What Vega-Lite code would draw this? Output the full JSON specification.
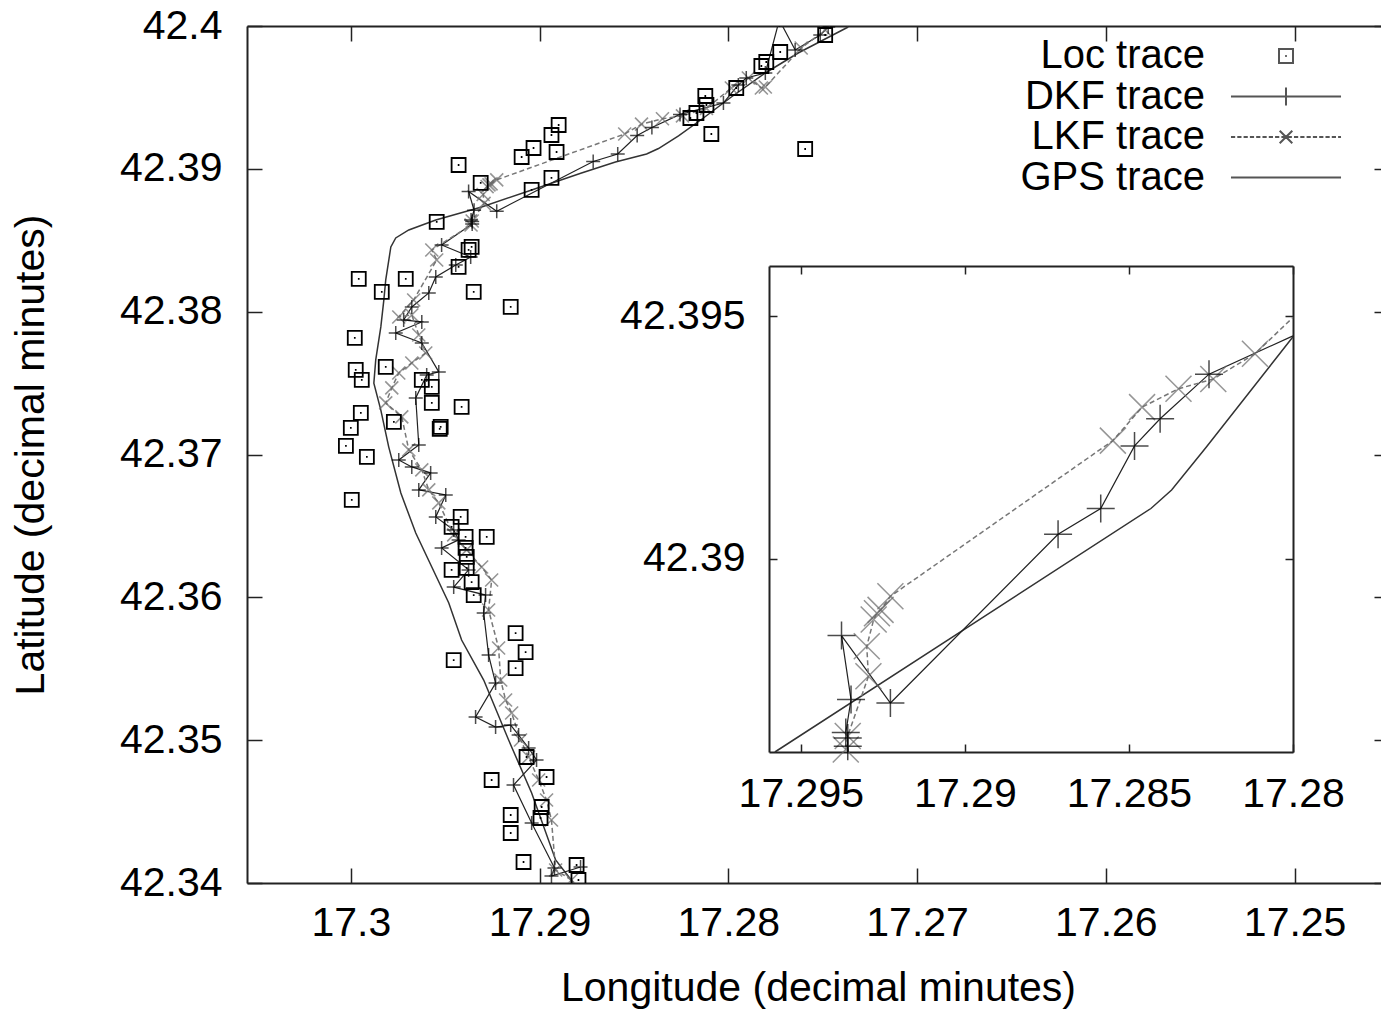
{
  "$schema": "https://vega.github.io/schema/vega-lite/v6.json",
  "width": 1142,
  "height": 857,
  "autosize": "none",
  "padding": {"left": 247, "top": 26, "right": 0, "bottom": 126},
  "background": "white",
  "config": {
    "font": "Liberation Sans",
    "view": {"stroke": null},
    "axis": {
      "domainColor": "#222", "domainWidth": 2, "tickColor": "#222", "tickWidth": 1.5,
      "grid": false, "labelFont": "Liberation Sans", "labelFontSize": 41, "labelColor": "#000",
      "titleFont": "Liberation Sans", "titleFontSize": 41, "titleFontWeight": "normal", "titleColor": "#000",
      "labelFlush": false, "labelOverlap": false, "labelBound": false
    }
  },
  "datasets": {
    "gps": [
      {"lon":17.28820,"lat":42.34000},{"lon":17.28915,"lat":42.34161},{"lon":17.29042,"lat":42.34630},{"lon":17.29164,"lat":42.35001},
      {"lon":17.29296,"lat":42.35421},{"lon":17.29413,"lat":42.35701},{"lon":17.29481,"lat":42.35960},{"lon":17.29571,"lat":42.36212},
      {"lon":17.29656,"lat":42.36450},{"lon":17.29735,"lat":42.36730},{"lon":17.29799,"lat":42.37052},{"lon":17.29841,"lat":42.37311},
      {"lon":17.29878,"lat":42.37500},{"lon":17.29868,"lat":42.37662},{"lon":17.29841,"lat":42.37893},{"lon":17.29825,"lat":42.38082},
      {"lon":17.29815,"lat":42.38222},{"lon":17.29788,"lat":42.38453},{"lon":17.29762,"lat":42.38516},{"lon":17.29693,"lat":42.38572},
      {"lon":17.29550,"lat":42.38642},{"lon":17.29307,"lat":42.38733},{"lon":17.29042,"lat":42.38852},{"lon":17.28778,"lat":42.38971},
      {"lon":17.28598,"lat":42.39048},{"lon":17.28433,"lat":42.39104},{"lon":17.28370,"lat":42.39142},{"lon":17.28264,"lat":42.39231},
      {"lon":17.28132,"lat":42.39356},{"lon":17.27984,"lat":42.39503},{"lon":17.27804,"lat":42.39671},{"lon":17.27630,"lat":42.39811},
      {"lon":17.27365,"lat":42.39993}
    ],
    "dkf": [
      {"lon":17.28783,"lat":42.34112},{"lon":17.28937,"lat":42.34049},{"lon":17.28921,"lat":42.34105},{"lon":17.29042,"lat":42.34420},
      {"lon":17.29138,"lat":42.34686},{"lon":17.29016,"lat":42.34861},{"lon":17.29058,"lat":42.34945},{"lon":17.29111,"lat":42.35036},
      {"lon":17.29153,"lat":42.35106},{"lon":17.29233,"lat":42.35092},{"lon":17.29339,"lat":42.35162},{"lon":17.29233,"lat":42.35400},
      {"lon":17.29270,"lat":42.35596},{"lon":17.29296,"lat":42.35890},{"lon":17.29286,"lat":42.36016},{"lon":17.29455,"lat":42.36072},
      {"lon":17.29376,"lat":42.36192},{"lon":17.29519,"lat":42.36346},{"lon":17.29429,"lat":42.36402},{"lon":17.29455,"lat":42.36472},
      {"lon":17.29550,"lat":42.36563},{"lon":17.29497,"lat":42.36717},{"lon":17.29640,"lat":42.36752},{"lon":17.29577,"lat":42.36871},
      {"lon":17.29677,"lat":42.36913},{"lon":17.29746,"lat":42.36962},{"lon":17.29640,"lat":42.37067},{"lon":17.29656,"lat":42.37396},
      {"lon":17.29598,"lat":42.37557},{"lon":17.29534,"lat":42.37578},{"lon":17.29624,"lat":42.37781},{"lon":17.29762,"lat":42.37851},
      {"lon":17.29624,"lat":42.37928},{"lon":17.29720,"lat":42.37942},{"lon":17.29677,"lat":42.38033},{"lon":17.29587,"lat":42.38131},
      {"lon":17.29550,"lat":42.38243},{"lon":17.29444,"lat":42.38327},{"lon":17.29365,"lat":42.38383},{"lon":17.29519,"lat":42.38467},
      {"lon":17.29357,"lat":42.38614},{"lon":17.29357,"lat":42.38631},{"lon":17.29363,"lat":42.38642},{"lon":17.29347,"lat":42.38710},
      {"lon":17.29376,"lat":42.38842},{"lon":17.29227,"lat":42.38703},{"lon":17.28716,"lat":42.39051},{"lon":17.28586,"lat":42.39104},
      {"lon":17.28483,"lat":42.39233},{"lon":17.28405,"lat":42.39289},{"lon":17.28256,"lat":42.39381},{"lon":17.28026,"lat":42.39461},
      {"lon":17.27947,"lat":42.39587},{"lon":17.27905,"lat":42.39636},{"lon":17.27804,"lat":42.39671},{"lon":17.27730,"lat":42.40042},
      {"lon":17.27646,"lat":42.39832},{"lon":17.27513,"lat":42.39937},{"lon":17.27471,"lat":42.39993}
    ],
    "lkf": [
      {"lon":17.28831,"lat":42.34021},{"lon":17.28915,"lat":42.34091},{"lon":17.28937,"lat":42.34441},{"lon":17.28963,"lat":42.34581},
      {"lon":17.29005,"lat":42.34721},{"lon":17.29058,"lat":42.34882},{"lon":17.29101,"lat":42.35001},{"lon":17.29148,"lat":42.35190},
      {"lon":17.29180,"lat":42.35281},{"lon":17.29206,"lat":42.35421},{"lon":17.29217,"lat":42.35645},{"lon":17.29270,"lat":42.35911},
      {"lon":17.29254,"lat":42.36121},{"lon":17.29307,"lat":42.36212},{"lon":17.29386,"lat":42.36332},{"lon":17.29455,"lat":42.36437},
      {"lon":17.29534,"lat":42.36661},{"lon":17.29587,"lat":42.36752},{"lon":17.29624,"lat":42.36892},{"lon":17.29693,"lat":42.37032},
      {"lon":17.29730,"lat":42.37263},{"lon":17.29815,"lat":42.37361},{"lon":17.29783,"lat":42.37466},{"lon":17.29746,"lat":42.37571},
      {"lon":17.29677,"lat":42.37641},{"lon":17.29603,"lat":42.37711},{"lon":17.29640,"lat":42.37837},{"lon":17.29677,"lat":42.37977},
      {"lon":17.29746,"lat":42.37963},{"lon":17.29667,"lat":42.38082},{"lon":17.29545,"lat":42.38362},{"lon":17.29571,"lat":42.38432},
      {"lon":17.29363,"lat":42.38607},{"lon":17.29357,"lat":42.38635},{"lon":17.29294,"lat":42.38758},{"lon":17.29299,"lat":42.38820},
      {"lon":17.29278,"lat":42.38875},{"lon":17.29268,"lat":42.38888},{"lon":17.29257,"lat":42.38895},{"lon":17.29227,"lat":42.38923},
      {"lon":17.28549,"lat":42.39244},{"lon":17.28460,"lat":42.39313},{"lon":17.28349,"lat":42.39351},{"lon":17.28243,"lat":42.39371},
      {"lon":17.28116,"lat":42.39423},{"lon":17.27984,"lat":42.39566},{"lon":17.27894,"lat":42.39636},{"lon":17.27825,"lat":42.39566},
      {"lon":17.27804,"lat":42.39573},{"lon":17.27614,"lat":42.39846},{"lon":17.27487,"lat":42.39972}
    ],
    "loc": [
      {"series":"Loc trace","lon":17.28899,"lat":42.39307},{"series":"Loc trace","lon":17.28937,"lat":42.39237},
      {"series":"Loc trace","lon":17.29095,"lat":42.39083},{"series":"Loc trace","lon":17.29032,"lat":42.39146},
      {"series":"Loc trace","lon":17.28910,"lat":42.39118},{"series":"Loc trace","lon":17.29429,"lat":42.39027},
      {"series":"Loc trace","lon":17.28937,"lat":42.38936},{"series":"Loc trace","lon":17.29042,"lat":42.38852},
      {"series":"Loc trace","lon":17.29545,"lat":42.38628},{"series":"Loc trace","lon":17.29376,"lat":42.38432},
      {"series":"Loc trace","lon":17.29429,"lat":42.38313},{"series":"Loc trace","lon":17.29709,"lat":42.38229},
      {"series":"Loc trace","lon":17.29958,"lat":42.38229},{"series":"Loc trace","lon":17.29836,"lat":42.38138},
      {"series":"Loc trace","lon":17.29349,"lat":42.38138},{"series":"Loc trace","lon":17.29153,"lat":42.38033},
      {"series":"Loc trace","lon":17.29312,"lat":42.38901},{"series":"Loc trace","lon":17.29979,"lat":42.37816},
      {"series":"Loc trace","lon":17.29815,"lat":42.37613},{"series":"Loc trace","lon":17.29974,"lat":42.37592},
      {"series":"Loc trace","lon":17.29942,"lat":42.37522},{"series":"Loc trace","lon":17.29571,"lat":42.37361},
      {"series":"Loc trace","lon":17.29413,"lat":42.37333},{"series":"Loc trace","lon":17.29524,"lat":42.37193},
      {"series":"Loc trace","lon":17.29772,"lat":42.37228},{"series":"Loc trace","lon":17.29947,"lat":42.37291},
      {"series":"Loc trace","lon":17.30000,"lat":42.37186},{"series":"Loc trace","lon":17.30026,"lat":42.37060},
      {"series":"Loc trace","lon":17.29915,"lat":42.36983},{"series":"Loc trace","lon":17.29995,"lat":42.36682},
      {"series":"Loc trace","lon":17.29624,"lat":42.37522},{"series":"Loc trace","lon":17.29571,"lat":42.37473},
      {"series":"Loc trace","lon":17.29418,"lat":42.36563},{"series":"Loc trace","lon":17.29280,"lat":42.36423},
      {"series":"Loc trace","lon":17.29466,"lat":42.36493},{"series":"Loc trace","lon":17.29392,"lat":42.36423},
      {"series":"Loc trace","lon":17.29392,"lat":42.36346},{"series":"Loc trace","lon":17.29386,"lat":42.36283},
      {"series":"Loc trace","lon":17.29386,"lat":42.36206},{"series":"Loc trace","lon":17.29466,"lat":42.36192},
      {"series":"Loc trace","lon":17.29360,"lat":42.36107},{"series":"Loc trace","lon":17.29349,"lat":42.36016},
      {"series":"Loc trace","lon":17.29127,"lat":42.35750},{"series":"Loc trace","lon":17.29074,"lat":42.35617},
      {"series":"Loc trace","lon":17.29127,"lat":42.35505},{"series":"Loc trace","lon":17.29455,"lat":42.35561},
      {"series":"Loc trace","lon":17.29069,"lat":42.34882},{"series":"Loc trace","lon":17.28963,"lat":42.34742},
      {"series":"Loc trace","lon":17.29254,"lat":42.34721},{"series":"Loc trace","lon":17.28989,"lat":42.34532},
      {"series":"Loc trace","lon":17.28995,"lat":42.34455},{"series":"Loc trace","lon":17.29153,"lat":42.34476},
      {"series":"Loc trace","lon":17.29153,"lat":42.34350},{"series":"Loc trace","lon":17.29085,"lat":42.34147},
      {"series":"Loc trace","lon":17.28804,"lat":42.34126},{"series":"Loc trace","lon":17.28794,"lat":42.34021},
      {"series":"Loc trace","lon":17.27487,"lat":42.39937},{"series":"Loc trace","lon":17.27725,"lat":42.39818},
      {"series":"Loc trace","lon":17.27799,"lat":42.39748},{"series":"Loc trace","lon":17.27825,"lat":42.39720},
      {"series":"Loc trace","lon":17.27958,"lat":42.39566},{"series":"Loc trace","lon":17.28122,"lat":42.39510},
      {"series":"Loc trace","lon":17.28116,"lat":42.39447},{"series":"Loc trace","lon":17.28169,"lat":42.39391},
      {"series":"Loc trace","lon":17.28201,"lat":42.39356},{"series":"Loc trace","lon":17.28090,"lat":42.39244},
      {"series":"Loc trace","lon":17.27593,"lat":42.39139},{"series":"Loc trace","lon":17.29529,"lat":42.37179},
      {"series":"Loc trace","lon":17.29360,"lat":42.38453}
    ],
    "gpsInset": [
      {"lon":17.29579,"lat":42.38602},{"lon":17.28433,"lat":42.39104},{"lon":17.28370,"lat":42.39142},
      {"lon":17.28264,"lat":42.39231},{"lon":17.28000,"lat":42.39458}
    ],
    "dkfInset": [
      {"lon":17.29355,"lat":42.38602},{"lon":17.29357,"lat":42.38614},{"lon":17.29357,"lat":42.38631},{"lon":17.29363,"lat":42.38642},
      {"lon":17.29347,"lat":42.38710},{"lon":17.29376,"lat":42.38842},{"lon":17.29227,"lat":42.38703},{"lon":17.28716,"lat":42.39051},
      {"lon":17.28586,"lat":42.39104},{"lon":17.28483,"lat":42.39233},{"lon":17.28405,"lat":42.39289},{"lon":17.28256,"lat":42.39381},
      {"lon":17.28000,"lat":42.39460}
    ],
    "lkfInset": [
      {"lon":17.29363,"lat":42.38607},{"lon":17.29357,"lat":42.38635},{"lon":17.29294,"lat":42.38758},{"lon":17.29299,"lat":42.38820},
      {"lon":17.29278,"lat":42.38875},{"lon":17.29268,"lat":42.38888},{"lon":17.29257,"lat":42.38895},{"lon":17.29227,"lat":42.38923},
      {"lon":17.28549,"lat":42.39244},{"lon":17.28460,"lat":42.39313},{"lon":17.28349,"lat":42.39351},{"lon":17.28243,"lat":42.39371},
      {"lon":17.28116,"lat":42.39423},{"lon":17.28000,"lat":42.39498}
    ]
  },
  "layer": [
    {
      "layer": [
        {
          "data": {"name": "gps"},
          "mark": {"type": "line", "color": "#333", "strokeWidth": 1.5, "clip": true},
          "encoding": {
            "x": {"field": "lon", "type": "quantitative", "scale": {"domain": [17.245, 17.3055], "reverse": true, "nice": false, "zero": false},
              "axis": {"orient": "bottom", "values": [17.25, 17.26, 17.27, 17.28, 17.29, 17.3], "format": ".6~g", "tickSize": -15, "labelPadding": 35, "title": "Longitude (decimal minutes)", "titlePadding": 25}},
            "y": {"field": "lat", "type": "quantitative", "scale": {"domain": [42.34, 42.4], "nice": false, "zero": false},
              "axis": {"orient": "left", "values": [42.34, 42.35, 42.36, 42.37, 42.38, 42.39, 42.4], "format": ".6~g", "tickSize": -15, "labelPadding": 40, "title": "Latitude (decimal minutes)", "titlePadding": 67}},
            "order": {"value": null}
          }
        },
        {
          "data": {"name": "dkf"},
          "mark": {"type": "line", "color": "#222", "strokeWidth": 1.2, "clip": true},
          "encoding": {
            "x": {"field": "lon", "type": "quantitative", "scale": {"domain": [17.245, 17.3055], "reverse": true, "nice": false, "zero": false},
              "axis": {"orient": "top", "values": [17.25, 17.26, 17.27, 17.28, 17.29, 17.3], "labels": false, "tickSize": -15, "title": null}},
            "y": {"field": "lat", "type": "quantitative", "scale": {"domain": [42.34, 42.4], "nice": false, "zero": false},
              "axis": {"orient": "right", "values": [42.34, 42.35, 42.36, 42.37, 42.38, 42.39, 42.4], "labels": false, "tickSize": -15, "title": null}},
            "order": {"value": null}
          }
        },
        {
          "data": {"name": "lkf"},
          "mark": {"type": "line", "color": "#777", "strokeWidth": 1.5, "strokeDash": [5, 3], "clip": true},
          "encoding": {
            "x": {"field": "lon", "type": "quantitative", "scale": {"domain": [17.245, 17.3055], "reverse": true, "nice": false, "zero": false}, "axis": null},
            "y": {"field": "lat", "type": "quantitative", "scale": {"domain": [42.34, 42.4], "nice": false, "zero": false}, "axis": null},
            "order": {"value": null}
          }
        },
        {
          "data": {"name": "lkf"},
          "mark": {"type": "point", "shape": "M-1,-1L1,1M-1,1L1,-1", "size": 169, "filled": false, "color": "#6a6a6a", "strokeWidth": 1.6, "clip": true},
          "encoding": {
            "x": {"field": "lon", "type": "quantitative", "scale": {"domain": [17.245, 17.3055], "reverse": true, "nice": false, "zero": false}, "axis": null},
            "y": {"field": "lat", "type": "quantitative", "scale": {"domain": [42.34, 42.4], "nice": false, "zero": false}, "axis": null}
          }
        },
        {
          "data": {"name": "dkf"},
          "mark": {"type": "point", "shape": "M-1,0H1M0,-1V1", "size": 196, "filled": false, "color": "#000", "strokeWidth": 1.5, "clip": true},
          "encoding": {
            "x": {"field": "lon", "type": "quantitative", "scale": {"domain": [17.245, 17.3055], "reverse": true, "nice": false, "zero": false}, "axis": null},
            "y": {"field": "lat", "type": "quantitative", "scale": {"domain": [42.34, 42.4], "nice": false, "zero": false}, "axis": null}
          }
        },
        {
          "data": {"name": "loc"},
          "mark": {"type": "point", "size": 196, "filled": false, "color": "#000", "strokeWidth": 1.8, "opacity": 1, "clip": true},
          "encoding": {
            "x": {"field": "lon", "type": "quantitative", "scale": {"domain": [17.245, 17.3055], "reverse": true, "nice": false, "zero": false}, "axis": null},
            "y": {"field": "lat", "type": "quantitative", "scale": {"domain": [42.34, 42.4], "nice": false, "zero": false}, "axis": null},
            "shape": {
              "field": "series", "type": "nominal",
              "scale": {
                "domain": ["Loc trace", "DKF trace", "LKF trace", "GPS trace"],
                "range": [
                  "M-1,-1H1V1H-1ZM-0.12,0H0.12",
                  "M-7.86,0H7.86M0,-1.29V1.29",
                  "M-7.86,0H-7.26M-6.96,0H-6.36M-6.06,0H-5.46M-5.16,0H-4.56M-4.26,0H-3.66M-3.36,0H-2.76M-2.46,0H-1.86M-1.56,0H-0.96M-0.66,0H-0.06M0.24,0H0.84M1.14,0H1.74M2.04,0H2.64M2.94,0H3.54M3.84,0H4.44M4.74,0H5.34M5.64,0H6.24M6.54,0H7.14M7.44,0H7.86M-0.9,-0.9L0.9,0.9M-0.9,0.9L0.9,-0.9",
                  "M-7.86,0H7.86"
                ]
              },
              "legend": {
                "title": null, "orient": "none", "legendX": 1019, "legendY": 10, "padding": 0,
                "labelFont": "Liberation Sans", "labelFontSize": 40, "labelColor": "#000", "labelLimit": 0,
                "labelAlign": "right", "labelOffset": -101, "rowPadding": 0.5, "symbolSize": 196,
                "symbolStrokeWidth": 2, "symbolStrokeColor": "#555", "symbolOpacity": 1
              }
            }
          }
        }
      ],
      "resolve": {"axis": {"x": "independent", "y": "independent"}}
    },
    {
      "layer": [
        {
          "data": {"name": "gpsInset"},
          "mark": {"type": "line", "color": "#333", "strokeWidth": 1.5},
          "encoding": {
            "x": {"field": "lon", "type": "quantitative", "scale": {"domain": [17.28, 17.29597], "reverse": true, "range": [522, 1046], "nice": false, "zero": false},
              "axis": {"orient": "bottom", "offset": -131, "values": [17.28, 17.285, 17.29, 17.295], "format": ".6~g", "tickSize": -8, "labelPadding": 30, "title": null}},
            "y": {"field": "lat", "type": "quantitative", "scale": {"domain": [42.38602, 42.39604], "range": [726, 240], "nice": false, "zero": false},
              "axis": {"orient": "left", "offset": -522, "values": [42.39, 42.395], "format": ".6~g", "tickSize": -8, "labelPadding": 32, "title": null}},
            "order": {"value": null}
          }
        },
        {
          "data": {"name": "dkfInset"},
          "mark": {"type": "line", "color": "#222", "strokeWidth": 1.2},
          "encoding": {
            "x": {"field": "lon", "type": "quantitative", "scale": {"domain": [17.28, 17.29597], "reverse": true, "range": [522, 1046], "nice": false, "zero": false},
              "axis": {"orient": "top", "offset": -240, "values": [17.28, 17.285, 17.29, 17.295], "labels": false, "tickSize": -8, "title": null}},
            "y": {"field": "lat", "type": "quantitative", "scale": {"domain": [42.38602, 42.39604], "range": [726, 240], "nice": false, "zero": false},
              "axis": {"orient": "right", "offset": -96, "values": [42.39, 42.395], "labels": false, "tickSize": -8, "title": null}},
            "order": {"value": null}
          }
        },
        {
          "data": {"name": "lkfInset"},
          "mark": {"type": "line", "color": "#777", "strokeWidth": 1.5, "strokeDash": [5, 3]},
          "encoding": {
            "x": {"field": "lon", "type": "quantitative", "scale": {"domain": [17.28, 17.29597], "reverse": true, "range": [522, 1046], "nice": false, "zero": false}, "axis": null},
            "y": {"field": "lat", "type": "quantitative", "scale": {"domain": [42.38602, 42.39604], "range": [726, 240], "nice": false, "zero": false}, "axis": null},
            "order": {"value": null}
          }
        },
        {
          "data": {"name": "lkfInset"},
          "transform": [{"filter": "datum.lon > 17.2801 && datum.lat > 42.38604"}],
          "mark": {"type": "point", "shape": "M-1,-1L1,1M-1,1L1,-1", "size": 676, "filled": false, "color": "#6a6a6a", "strokeWidth": 1.5},
          "encoding": {
            "x": {"field": "lon", "type": "quantitative", "scale": {"domain": [17.28, 17.29597], "reverse": true, "range": [522, 1046], "nice": false, "zero": false}, "axis": null},
            "y": {"field": "lat", "type": "quantitative", "scale": {"domain": [42.38602, 42.39604], "range": [726, 240], "nice": false, "zero": false}, "axis": null}
          }
        },
        {
          "data": {"name": "dkfInset"},
          "transform": [{"filter": "datum.lon > 17.2801 && datum.lat > 42.38604"}],
          "mark": {"type": "point", "shape": "M-1,0H1M0,-1V1", "size": 784, "filled": false, "color": "#000", "strokeWidth": 1.5},
          "encoding": {
            "x": {"field": "lon", "type": "quantitative", "scale": {"domain": [17.28, 17.29597], "reverse": true, "range": [522, 1046], "nice": false, "zero": false}, "axis": null},
            "y": {"field": "lat", "type": "quantitative", "scale": {"domain": [42.38602, 42.39604], "range": [726, 240], "nice": false, "zero": false}, "axis": null}
          }
        }
      ],
      "resolve": {"axis": {"x": "independent", "y": "independent"}}
    }
  ],
  "resolve": {"scale": {"x": "independent", "y": "independent", "shape": "independent"}}
}
